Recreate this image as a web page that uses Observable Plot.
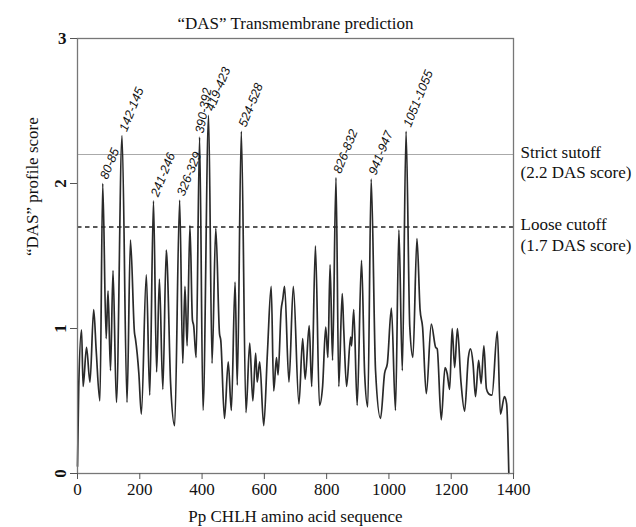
<!DOCTYPE html>
<html>
<head>
<meta charset="utf-8">
<script src="https://cdn.jsdelivr.net/npm/d3@7"></script>
<script src="https://cdn.jsdelivr.net/npm/@observablehq/plot@0.6"></script>
<style>
  html, body { margin: 0; padding: 0; background: #fff; }
  #chart { width: 636px; height: 527px; }
</style>
</head>
<body>
<div id="chart"></div>
<script>
// ---- data ----
const residues = [0, 4, 13, 18, 29, 40, 52, 60, 72, 81, 92, 98, 106, 114, 125, 143, 159, 170, 183, 186, 197, 205, 221, 232, 244, 254, 263, 274, 285, 288, 299, 312, 328, 338, 345, 352, 361, 369, 373, 381, 392, 403, 421, 432, 444, 456, 460, 472, 484, 494, 506, 513, 526, 541, 553, 563, 572, 577, 585, 598, 610, 622, 630, 639, 644, 654, 659, 665, 679, 693, 711, 723, 731, 744, 752, 764, 777, 787, 797, 804, 811, 819, 830, 839, 850, 855, 864, 877, 880, 887, 898, 912, 922, 932, 943, 957, 973, 986, 995, 1008, 1021, 1032, 1043, 1055, 1067, 1077, 1090, 1100, 1108, 1120, 1136, 1150, 1155, 1168, 1180, 1187, 1195, 1203, 1211, 1220, 1231, 1243, 1255, 1262, 1270, 1278, 1288, 1296, 1305, 1313, 1320, 1331, 1348, 1358, 1371, 1378, 1385];
const scores = [0.05, 0.6, 0.99, 0.60, 0.87, 0.63, 1.13, 0.85, 0.50, 2.00, 0.93, 1.26, 0.71, 1.40, 0.49, 2.33, 0.49, 1.61, 0.97, 0.93, 0.69, 0.41, 1.37, 0.54, 1.88, 0.70, 1.34, 0.58, 1.54, 1.45, 0.62, 0.33, 1.885, 0.76, 1.29, 0.88, 1.71, 1.06, 1.02, 0.80, 2.32, 0.435, 2.47, 0.76, 1.69, 0.965, 0.92, 0.38, 0.77, 0.435, 1.32, 0.61, 2.36, 0.42, 0.90, 0.50, 0.83, 0.63, 0.77, 0.33, 0.84, 1.29, 0.57, 0.80, 0.68, 1.13, 1.20, 1.29, 0.63, 1.29, 0.48, 0.93, 0.65, 1.02, 0.60, 1.57, 0.47, 0.60, 1.01, 0.80, 1.44, 0.78, 2.04, 0.60, 1.24, 0.99, 0.60, 0.94, 0.88, 1.13, 0.47, 1.47, 0.69, 0.46, 2.03, 0.71, 0.38, 0.69, 0.76, 1.14, 0.435, 1.68, 0.71, 2.36, 1.01, 0.80, 1.62, 1.13, 1.01, 0.55, 1.03, 0.87, 0.86, 0.37, 0.73, 0.69, 0.58, 1.00, 0.73, 1.00, 0.64, 0.43, 0.80, 0.86, 0.76, 0.53, 0.78, 0.62, 0.88, 0.585, 0.55, 0.54, 0.98, 0.41, 0.53, 0.48, 0.0];

const peakResidues = [81, 143, 244, 328, 392, 421, 526, 830, 943, 1055];
const peakScores   = [2.00, 2.33, 1.88, 1.885, 2.32, 2.47, 2.36, 2.04, 2.03, 2.36];
const peakLabels   = ["80-85", "142-145", "241-246", "326-329", "390-392", "419-423", "524-528", "826-832", "941-947", "1051-1055"];

const cutoffValues = [2.2, 1.7];
const cutoffLabels = ["Strict sutoff\n(2.2 DAS score)", "Loose cutoff\n(1.7 DAS score)"];

const xTicks = [0, 200, 400, 600, 800, 1000, 1200, 1400];
const yTicks = [0, 1, 2, 3];

const titleText = "\u201CDAS\u201D Transmembrane prediction";
const xLabel = "Pp CHLH amino acid sequence";
const yLabel = "\u201CDAS\u201D profile score";

// ---- tables built from the arrays ----
const profile = residues.map((r, i) => ({r, s: scores[i]}));
const peaks = peakResidues.map((r, i) => ({r, s: peakScores[i], label: peakLabels[i]}));
const cutoffs = cutoffValues.map((v, i) => ({v, label: cutoffLabels[i]}));

const serif = "'Liberation Serif', 'Times New Roman', serif";
const sansItalic = {fontFamily: "'Liberation Sans', Arial, sans-serif", fontStyle: "italic", fontSize: 12.5, fill: "#111", textAnchor: "start"};
const crowded = "390-392";

const chart = Plot.plot({
  width: 636,
  height: 527,
  marginLeft: 77,
  marginRight: 123,
  marginTop: 38,
  marginBottom: 54,
  style: {fontFamily: serif, fontSize: "17px", color: "#111", background: "#fff", overflow: "visible"},
  x: {domain: [0, 1400]},
  y: {domain: [0, 3]},
  marks: [
    Plot.ruleY([cutoffValues[0]], {stroke: "#aaa", strokeWidth: 1}),
    Plot.ruleY([cutoffValues[1]], {stroke: "#222", strokeWidth: 1.3, strokeDasharray: "4.5,3.5"}),
    Plot.line(profile, {x: "r", y: "s", curve: "monotone-x", stroke: "#2a2a2a", strokeWidth: 1.7, strokeLinejoin: "round"}),
    Plot.frame({stroke: "#777", strokeWidth: 1.3}),
    Plot.axisX({ticks: xTicks, tickFormat: d3.format("d"), tickSize: 6, tickPadding: 3, label: null, stroke: "#555", fontSize: 17, fontFamily: serif}),
    Plot.axisY({ticks: yTicks.filter(d => d !== 3), tickFormat: d3.format("d"), tickSize: 7, tickPadding: 5, tickRotate: -90, label: null, stroke: "#555", fontWeight: "bold", fontSize: 17, fontFamily: serif}),
    Plot.axisY({ticks: yTicks.filter(d => d === 3), tickFormat: d3.format("d"), tickSize: 7, tickPadding: 4, label: null, stroke: "#555", fontWeight: "bold", fontSize: 17, fontFamily: serif}),
    Plot.text(peaks.filter(d => d.label !== crowded), {x: "r", y: "s", text: "label", rotate: -68, dx: 1, dy: -5, ...sansItalic}),
    Plot.text(peaks.filter(d => d.label === crowded), {x: "r", y: "s", text: "label", rotate: -80, dx: 0, dy: -4, ...sansItalic}),
    Plot.text(cutoffs, {x: 1400, y: "v", text: "label", textAnchor: "start", dx: 7, dy: 7, lineHeight: 1.2,
      fontFamily: serif, fontSize: 17, fill: "#111", clip: false}),
    Plot.text([titleText], {frameAnchor: "top", lineAnchor: "middle", dy: -15, fontFamily: serif, fontSize: 17, fill: "#111"}),
    Plot.text([xLabel], {frameAnchor: "bottom", lineAnchor: "middle", dy: 43, fontFamily: serif, fontSize: 17, fill: "#111"}),
    Plot.text([yLabel], {frameAnchor: "left", rotate: -90, dx: -45, fontFamily: serif, fontSize: 17, fill: "#111"})
  ]
});
document.getElementById("chart").appendChild(chart);
</script>
</body>
</html>
